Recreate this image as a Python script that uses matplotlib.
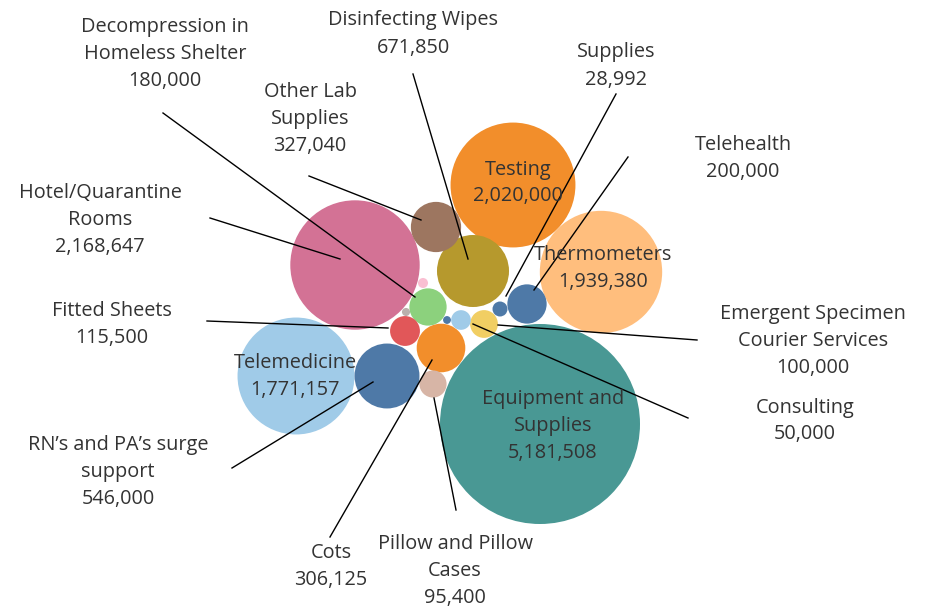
"""Packed bubble chart: COVID-19 spending by category."""
import matplotlib

matplotlib.use("Agg")
import matplotlib.pyplot as plt
from matplotlib.patches import Circle

# ---- data -----------------------------------------------------------------
categories = [
    "Equipment and\nSupplies", "Hotel/Quarantine\nRooms", "Testing",
    "Thermometers", "Telemedicine", "Disinfecting Wipes",
    "RN\u2019s and PA\u2019s surge\nsupport", "Other Lab\nSupplies", "Cots",
    "Telehealth", "Decompression in\nHomeless Shelter", "Fitted Sheets",
    "Emergent Specimen\nCourier Services", "Pillow and Pillow\nCases",
    "Consulting", "Supplies", "", "", "",
]
values = [
    5181508, 2168647, 2020000, 1939380, 1771157, 671850,
    546000, 327040, 306125, 200000, 180000, 115500,
    100000, 95400, 50000, 28992, 13000, 8500, 8000,
]
colors = [
    "#499894", "#D37295", "#F28E2B", "#FFBE7D", "#A0CBE8", "#B6992D",
    "#4E79A7", "#9D7660", "#F28E2B", "#4E79A7", "#8CD17D", "#E15759",
    "#F1CE63", "#D7B5A6", "#A0CBE8", "#4E79A7", "#FABFD2", "#BAB0AC",
    "#4E79A7",
]

# ---- layout (pixel coords, y down) ----------------------------------------
centers = [
    (540, 424), (355, 265), (513, 185), (601, 272), (296, 376), (473, 271),
    (387, 376), (436, 227), (441, 348), (527, 304), (428, 307), (405, 331),
    (484, 324), (433, 384), (461, 320), (500, 309), (423, 283), (406, 312),
    (447, 320),
]
inside = {0: (553, 424), 2: (518, 181), 3: (603, 267), 4: (295, 374)}
outside = {
    # idx: (text x, text y centre, line start, line end)
    10: (165, 52, (163, 113), (415, 297)),
    5: (413, 32, (413, 74), (468, 259)),
    7: (310, 117, (309, 176), (421, 220)),
    15: (616, 64, (616, 94), (506, 296)),
    9: (743, 157, (628, 157), (534, 290)),
    1: (100, 218, (210, 218), (340, 259)),
    11: (112, 322, (207, 321), (388, 328)),
    12: (813, 339, (697, 340), (498, 325)),
    14: (805, 419, (688, 418), (473, 324)),
    6: (118, 470, (232, 468), (373, 382)),
    13: (455, 569, (456, 510), (434, 398)),
    8: (331, 565, (330, 537), (432, 360)),
}

INK = "#333333"
FONT = ["Open Sans", "DejaVu Sans"]
FS = 14.3
LINE_H = 27.0   # px between baselines
K = 100 / 5181508 ** 0.5  # radius in px per sqrt(value)

fig = plt.figure(figsize=(9.3, 6.1), dpi=100)
ax = fig.add_axes([0, 0, 1, 1])
ax.set_xlim(0, 930)
ax.set_ylim(610, 0)
ax.set_aspect("equal")
ax.axis("off")


def put_label(i, x, y):
    lines = f"{categories[i]}\n{values[i]:,}".split("\n")
    n = len(lines)
    for j, s in enumerate(lines):
        yb = y + (j - (n - 1) / 2) * LINE_H + 7
        ax.text(x, yb, s, ha="center", va="baseline", fontsize=FS,
                family=FONT, color=INK, zorder=4)


for (cx, cy), v, c in zip(centers, values, colors):
    ax.add_patch(Circle((cx, cy), K * v ** 0.5, facecolor=c,
                        edgecolor="none", zorder=2))

for i, (x, y) in inside.items():
    put_label(i, x, y)

for i, (x, y, p0, p1) in outside.items():
    put_label(i, x, y)
    ax.plot([p0[0], p1[0]], [p0[1], p1[1]], color="black", lw=1.0, zorder=3)

fig.savefig("out.png", dpi=100, facecolor="white")
